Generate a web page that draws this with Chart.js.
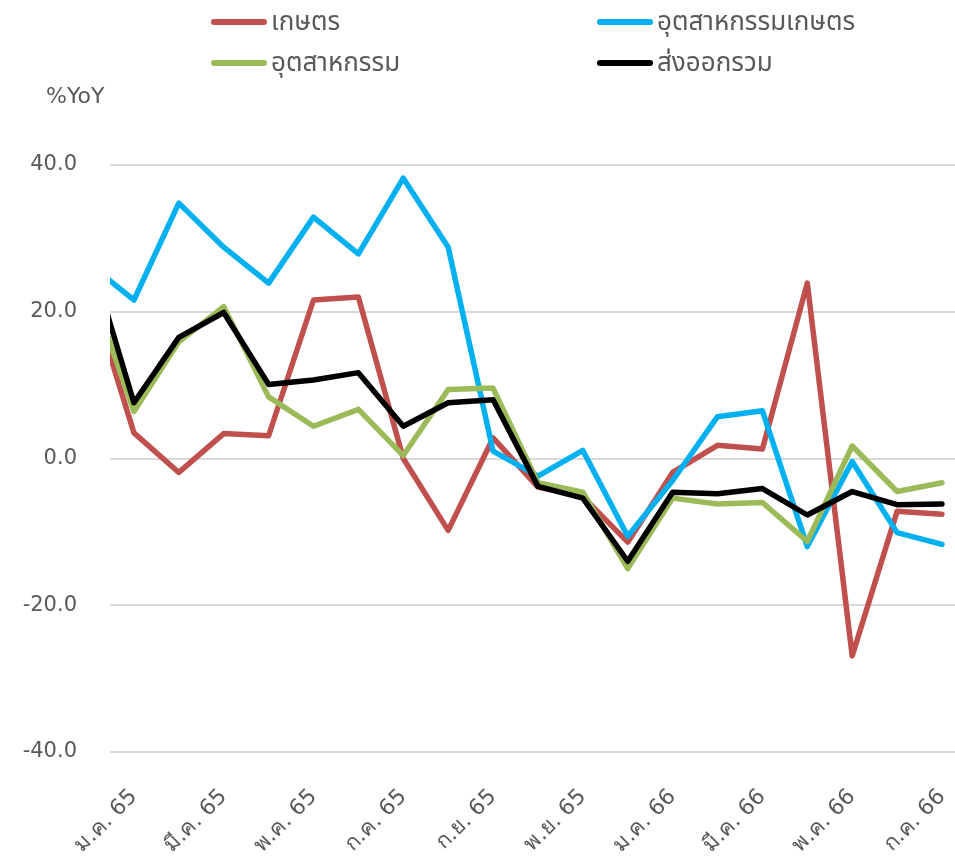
<!DOCTYPE html>
<html>
<head>
<meta charset="utf-8">
<script src="https://cdn.jsdelivr.net/npm/chart.js@4/dist/chart.umd.min.js"></script>
<style>
  html, body { margin: 0; padding: 0; background: #fff; }
  #wrap { position: relative; width: 955px; height: 856px; }
  canvas { position: absolute; left: 0; top: 0; }
  .leg { position: absolute; display: flex; align-items: center; font-family: Tahoma, "Noto Sans Thai", "Noto Sans", "DejaVu Sans", sans-serif; font-size: 26px; color: #595959; white-space: nowrap; }
  .sw { width: 56px; height: 6px; border-radius: 3px; margin-right: 4px; }
  #unit { position: absolute; left: 46px; top: 83px; font-family: "DejaVu Sans", sans-serif; font-size: 22px; color: #595959; }
</style>
</head>
<body>
<div id="wrap">
  <canvas id="c" width="955" height="856"></canvas>
  <div id="unit">%YoY</div>
  <div id="legend"></div>
</div>
<script>
// Months: ธ.ค. 64 (partly visible at left edge) .. ก.ค. 66
const categories = ['ธ.ค. 64','ม.ค. 65','ก.พ. 65','มี.ค. 65','เม.ย. 65','พ.ค. 65','มิ.ย. 65','ก.ค. 65','ส.ค. 65','ก.ย. 65','ต.ค. 65','พ.ย. 65','ธ.ค. 65','ม.ค. 66','ก.พ. 66','มี.ค. 66','เม.ย. 66','พ.ค. 66','มิ.ย. 66','ก.ค. 66'];
const agriculture   = [23.3, 3.5, -1.9, 3.4, 3.1, 21.6, 22.0, 0.0, -9.8, 2.8, -3.9, -5.2, -11.4, -1.9, 1.8, 1.3, 23.9, -26.9, -7.2, -7.6];
const agroIndustry  = [26.5, 21.6, 34.8, 28.8, 23.9, 32.9, 27.9, 38.2, 28.8, 1.0, -2.4, 1.1, -10.6, -3.0, 5.7, 6.5, -12.0, -0.4, -10.1, -11.7];
const industry      = [24.0, 6.4, 15.9, 20.7, 8.4, 4.4, 6.7, 0.4, 9.4, 9.6, -3.3, -4.6, -15.0, -5.4, -6.2, -6.0, -11.3, 1.7, -4.5, -3.3];
const totalExports  = [28.0, 7.6, 16.5, 19.9, 10.1, 10.7, 11.7, 4.4, 7.6, 8.0, -3.8, -5.4, -14.0, -4.6, -4.8, -4.1, -7.7, -4.5, -6.3, -6.2];
const seriesNames   = ['เกษตร', 'อุตสาหกรรมเกษตร', 'อุตสาหกรรม', 'ส่งออกรวม'];
const seriesColors  = ['#C0504D', '#00B0F0', '#9BBB59', '#000000'];
const yTicks        = [-40, -20, 0, 20, 40];

const seriesValues = [agriculture, agroIndustry, industry, totalExports];
const FIRST = -1; // index of ธ.ค. 64 relative to ม.ค. 65
function pts(arr) { return arr.map((v, i) => ({ x: i + FIRST, y: v })); }

const datasets = seriesValues.map((arr, k) => ({
  label: seriesNames[k],
  data: pts(arr),
  borderColor: seriesColors[k],
  backgroundColor: seriesColors[k],
  borderWidth: 5.5,
  pointRadius: 0,
  tension: 0,
  borderJoinStyle: 'round',
  borderCapStyle: 'round',
  clip: 0,
  order: 4 - k
}));

const yFont = { family: '"DejaVu Sans", Tahoma, sans-serif', size: 21 };
const xFont = { family: '"DejaVu Sans", Tahoma, sans-serif', size: 22 };

new Chart(document.getElementById('c'), {
  type: 'line',
  data: { datasets },
  options: {
    responsive: false,
    animation: false,
    layout: { padding: { top: 165, right: 0, left: 0, bottom: 0 } },
    plugins: { legend: { display: false }, tooltip: { enabled: false } },
    scales: {
      x: {
        type: 'linear',
        min: -0.533,
        max: 18.29,
        grid: { display: false, drawTicks: false },
        border: { display: false },
        afterBuildTicks: (s) => { s.ticks = categories.map((c, i) => i + FIRST).filter(v => v >= 0 && v % 2 === 0).map(v => ({ value: v })); },
        afterFit: (s) => { s.height = 104; s.paddingLeft = 0; s.paddingRight = 0; },
        ticks: {
          autoSkip: false,
          maxRotation: 45,
          minRotation: 45,
          padding: 32,
          color: '#595959',
          font: xFont,
          callback: (v) => categories[v - FIRST]
        }
      },
      y: {
        min: -40,
        max: 40,
        afterBuildTicks: (s) => { s.ticks = yTicks.map(v => ({ value: v })); },
        afterFit: (s) => { s.width = 110; },
        grid: { color: '#d9d9d9', lineWidth: 2, drawTicks: false },
        border: { display: false },
        ticks: {
          padding: 33,
          color: '#595959',
          font: yFont,
          callback: (v) => v.toFixed(1)
        }
      }
    }
  }
});

// HTML legend in two columns, built from the series arrays
const legendPos = [[211, 2], [597, 2], [211, 43], [597, 43]];
const legendEl = document.getElementById('legend');
seriesNames.forEach((n, k) => {
  const d = document.createElement('div');
  d.className = 'leg';
  d.style.left = legendPos[k][0] + 'px';
  d.style.top = legendPos[k][1] + 'px';
  d.innerHTML = '<span class="sw" style="background:' + seriesColors[k] + '"></span><span>' + n + '</span>';
  legendEl.appendChild(d);
});
</script>
</body>
</html>
